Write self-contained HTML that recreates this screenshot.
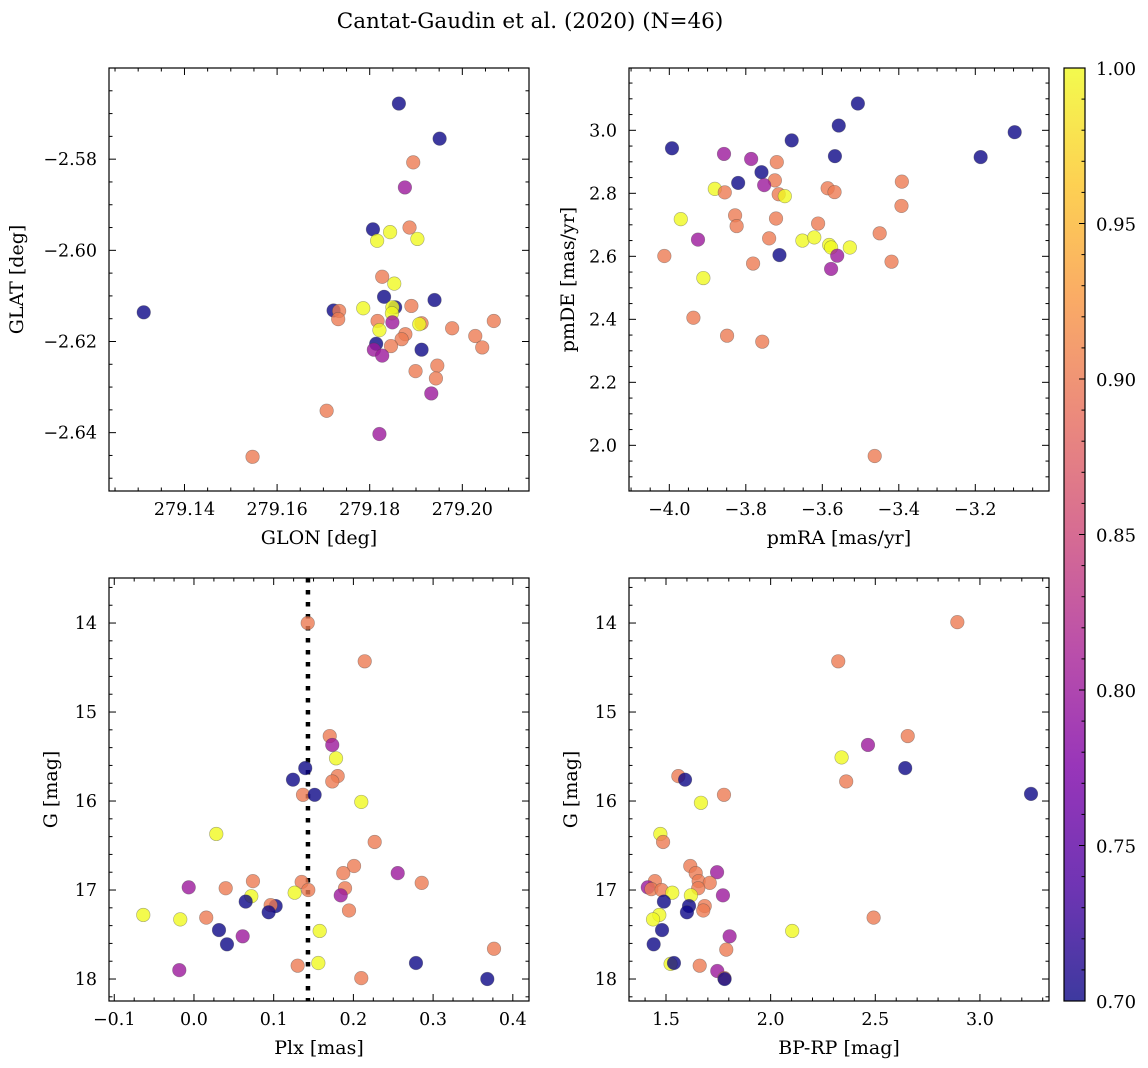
<!DOCTYPE html>
<html><head><meta charset="utf-8"><style>
html,body{margin:0;padding:0;background:#fff;}
svg{display:block;font-family:"DejaVu Serif","Liberation Serif",serif;}
</style></head><body>
<svg id="fig" width="1148" height="1068" viewBox="0 0 1148 1068" xmlns="http://www.w3.org/2000/svg">
<defs>
<linearGradient id="cbgrad" x1="0" y1="1" x2="0" y2="0">
<stop offset="0" stop-color="#0d0887"/><stop offset="0.125" stop-color="#4c02a1"/><stop offset="0.25" stop-color="#7e03a8"/><stop offset="0.375" stop-color="#a92395"/><stop offset="0.5" stop-color="#cc4778"/><stop offset="0.625" stop-color="#e66c5c"/><stop offset="0.75" stop-color="#f89540"/><stop offset="0.875" stop-color="#fdc527"/><stop offset="1" stop-color="#f0f921"/>
</linearGradient>
</defs>
<text x="530" y="28" font-size="21.5" text-anchor="middle">Cantat-Gaudin et al. (2020) (N=46)</text>
<g id="cb">
<rect x="1064" y="68" width="21" height="933" fill="url(#cbgrad)" fill-opacity="0.8" stroke="none"/>
</g>
</svg>
<script>
// ---- data ----
// Panel 1: GLON / GLAT
const glonTL=[279.1863,279.1951,279.1894,279.1876,279.1807,279.1844,279.1886,279.1816,279.1903,279.1827,279.1853,279.1831,279.1940,279.1312,279.1722,279.1734,279.1732,279.1786,279.1855,279.1849,279.1890,279.1848,279.1849,279.1817,279.1912,279.1907,279.1821,279.1978,279.2068,279.2028,279.2043,279.1877,279.1869,279.1846,279.1814,279.1809,279.1827,279.1912,279.1946,279.1899,279.1943,279.1933,279.1707,279.1821,279.1547];
const glatTL=[-2.5678,-2.5755,-2.5807,-2.5862,-2.5954,-2.5960,-2.5950,-2.5979,-2.5975,-2.6058,-2.6073,-2.6102,-2.6109,-2.6136,-2.6132,-2.6133,-2.6151,-2.6127,-2.6125,-2.6125,-2.6122,-2.6138,-2.6158,-2.6155,-2.6160,-2.6162,-2.6175,-2.6171,-2.6155,-2.6188,-2.6213,-2.6184,-2.6195,-2.6210,-2.6205,-2.6218,-2.6231,-2.6218,-2.6253,-2.6265,-2.6281,-2.6314,-2.6352,-2.6403,-2.6453];
const probTL=[0.7,0.7,0.9,0.8,0.7,1,0.9,1,1,0.9,1,0.7,0.7,0.7,0.7,0.9,0.9,1,0.7,1,0.9,1,0.8,0.9,0.9,1,1,0.9,0.9,0.9,0.9,0.9,0.9,0.9,0.7,0.8,0.8,0.7,0.9,0.9,0.9,0.8,0.9,0.8,0.9];
// Panel 2: pmRA / pmDE
const pmraTR=[-3.507,-3.557,-3.097,-3.680,-3.993,-3.567,-3.857,-3.786,-3.719,-3.759,-3.186,-3.820,-3.724,-3.752,-3.881,-3.855,-3.714,-3.698,-3.586,-3.568,-3.392,-3.393,-3.970,-3.828,-3.824,-3.721,-3.611,-3.450,-3.925,-3.739,-3.652,-3.621,-3.582,-3.577,-3.561,-3.528,-3.712,-4.013,-3.781,-3.577,-3.419,-3.911,-3.937,-3.849,-3.757,-3.463];
const pmdeTR=[3.085,3.015,2.994,2.968,2.943,2.918,2.925,2.909,2.899,2.867,2.915,2.833,2.841,2.826,2.814,2.803,2.797,2.791,2.816,2.804,2.837,2.760,2.718,2.730,2.696,2.720,2.704,2.673,2.653,2.657,2.650,2.660,2.636,2.628,2.602,2.628,2.604,2.601,2.577,2.560,2.583,2.531,2.405,2.348,2.329,1.966];
const probTR=[0.7,0.7,0.7,0.7,0.7,0.7,0.8,0.8,0.9,0.7,0.7,0.7,0.9,0.8,1,0.9,0.9,1,0.9,0.9,0.9,0.9,1,0.9,0.9,0.9,0.9,0.9,0.8,0.9,1,1,1,1,0.8,1,0.7,0.9,0.9,0.8,0.9,1,0.9,0.9,0.9,0.9];
// Panel 3: Plx / G
const plxBL=[0.1427,0.2142,0.1703,0.1735,0.1782,0.1396,0.1242,0.1803,0.1735,0.1368,0.1514,0.2099,0.028,0.2267,0.2008,0.1873,0.2556,0.1351,0.074,-0.0066,0.0398,0.1434,0.1263,0.0719,0.1895,0.1841,0.2857,0.0649,0.1025,0.0962,0.0937,0.1945,-0.0636,-0.0172,0.0154,0.0314,0.1577,0.0611,0.0414,0.3764,0.156,0.1301,0.2785,-0.0184,0.2099,0.368];
const gBL=[14.00,14.43,15.27,15.37,15.52,15.63,15.76,15.72,15.78,15.93,15.93,16.01,16.37,16.46,16.73,16.81,16.81,16.91,16.90,16.97,16.98,17.00,17.03,17.07,16.98,17.06,16.92,17.13,17.18,17.17,17.25,17.23,17.28,17.33,17.31,17.45,17.46,17.52,17.61,17.66,17.82,17.85,17.82,17.90,17.99,18.00];
const probBL=[0.9,0.9,0.9,0.8,1,0.7,0.7,0.9,0.9,0.9,0.7,1,1,0.9,0.9,0.9,0.8,0.9,0.9,0.8,0.9,0.9,1,1,0.9,0.8,0.9,0.7,0.7,0.9,0.7,0.9,1,1,0.9,0.7,1,0.8,0.7,0.9,1,0.9,0.7,0.8,0.9,0.7];
const plxRef=0.143;
// Panel 4: BP-RP / G
const bprpBR=[2.892,2.323,2.655,2.465,2.339,2.643,2.361,1.559,1.591,1.777,3.244,1.667,1.473,1.486,1.616,1.642,1.744,1.656,1.709,1.447,1.413,1.430,1.479,1.654,1.530,1.619,1.772,1.490,1.610,1.685,1.600,1.678,1.468,1.438,2.492,1.481,2.103,1.804,1.441,1.788,1.522,1.538,1.661,1.745,1.779,1.780];
const gBR=[13.99,14.43,15.27,15.37,15.51,15.63,15.78,15.72,15.76,15.93,15.92,16.02,16.37,16.46,16.73,16.81,16.80,16.90,16.92,16.90,16.97,16.99,17.00,16.98,17.03,17.06,17.06,17.13,17.18,17.18,17.25,17.23,17.28,17.33,17.31,17.45,17.46,17.52,17.61,17.67,17.83,17.82,17.85,17.91,17.99,18.00];
const probBR=[0.9,0.9,0.9,0.8,1,0.7,0.9,0.9,0.7,0.9,0.7,1,1,0.9,0.9,0.9,0.8,0.9,0.9,0.9,0.8,0.9,0.9,0.9,1,1,0.8,0.7,0.7,0.9,0.7,0.9,1,1,0.9,0.7,1,0.8,0.7,0.9,1,0.7,0.9,0.8,0.9,0.7];
// ticks
const ticksGlon=[279.14,279.16,279.18,279.20];
const ticksGlat=[-2.58,-2.60,-2.62,-2.64];
const ticksPmra=[-4.0,-3.8,-3.6,-3.4,-3.2];
const ticksPmde=[2.0,2.2,2.4,2.6,2.8,3.0];
const ticksPlx=[-0.1,0.0,0.1,0.2,0.3,0.4];
const ticksG=[14,15,16,17,18];
const ticksBprp=[1.5,2.0,2.5,3.0];
const ticksCb=[0.70,0.75,0.80,0.85,0.90,0.95,1.00];

const NS="http://www.w3.org/2000/svg";
const svg=document.getElementById('fig');
function mk(tag,attrs,parent){const e=document.createElementNS(NS,tag);for(const k in attrs)e.setAttribute(k,attrs[k]);(parent||svg).appendChild(e);return e;}
const stops=[[13,8,135],[76,2,161],[126,3,168],[169,35,149],[204,71,120],[230,108,92],[248,149,64],[253,197,39],[240,249,33]];
function plasma(t){t=Math.max(0,Math.min(1,t));const f=t*8,i=Math.min(7,Math.floor(f)),r=f-i;const a=stops[i],b=stops[i+1];return 'rgb('+a.map((v,k)=>Math.round(v+(b[k]-v)*r)).join(',')+')';}
function fmt(v,d){return (v<0?'\u2212':'')+Math.abs(v).toFixed(d);}

function panel(o){
  const g=mk('g',{});
  
  
  const X=v=>o.x0+(v-o.xmin)/(o.xmax-o.xmin)*o.w;
  const Y=v=>o.yinv? o.y0+(v-o.ymin)/(o.ymax-o.ymin)*o.h : o.y0+o.h-(v-o.ymin)/(o.ymax-o.ymin)*o.h;
  if(o.vline!==undefined){
    const l=mk('line',{x1:X(o.vline),x2:X(o.vline),y1:o.y0,y2:o.y0+o.h,stroke:'#000','stroke-width':4.5,'stroke-dasharray':'4.5 7.5'},g);
    
    
  }
  const pg=mk('g',{},g);
  
  
  for(let i=0;i<o.xs.length;i++){
    const c=mk('circle',{cx:X(o.xs[i]),cy:Y(o.ys[i]),r:6.8,fill:plasma((o.ps[i]-0.7)/0.3),'fill-opacity':0.8,stroke:'#444','stroke-opacity':0.45,'stroke-width':0.6},pg);
    
    
  }
  const fr=mk('rect',{x:o.x0,y:o.y0,width:o.w,height:o.h,fill:'none',stroke:'#000','stroke-width':1.2},g);
  
  
  const st=Math.ceil((o.xmin)/o.xminor-1e-9);
  for(let k=st;k*o.xminor<=o.xmax+1e-9;k++){
    const v=k*o.xminor, px=X(v);
    const major=Math.abs(v/o.xmajor-Math.round(v/o.xmajor))<1e-6;
    const L=major?7:3.5;
    mk('line',{x1:px,x2:px,y1:o.y0+o.h,y2:o.y0+o.h-L,stroke:'#000','stroke-width':1},g);
    mk('line',{x1:px,x2:px,y1:o.y0,y2:o.y0+L,stroke:'#000','stroke-width':1},g);
  }
  for(const v of o.xt){
    const t=mk('text',{x:X(v),y:o.y0+o.h+24,'font-size':17.5,'text-anchor':'middle'},g);
    t.textContent=fmt(v,o.xd);
    
    
  }
  const sy=Math.ceil(o.ymin/o.yminor-1e-9);
  for(let k=sy;k*o.yminor<=o.ymax+1e-9;k++){
    const v=k*o.yminor, py=Y(v);
    const major=Math.abs(v/o.ymajor-Math.round(v/o.ymajor))<1e-6;
    const L=major?7:3.5;
    mk('line',{x1:o.x0,x2:o.x0+L,y1:py,y2:py,stroke:'#000','stroke-width':1},g);
    mk('line',{x1:o.x0+o.w,x2:o.x0+o.w-L,y1:py,y2:py,stroke:'#000','stroke-width':1},g);
  }
  for(const v of o.yt){
    const t=mk('text',{x:o.x0-12,y:Y(v)+6,'font-size':17.5,'text-anchor':'end'},g);
    t.textContent=fmt(v,o.yd);
    
    
  }
  const xl=mk('text',{x:o.x0+o.w/2,y:o.y0+o.h+53,'font-size':19,'text-anchor':'middle'},g);
  xl.textContent=o.xlabel;
  
  
  const yl=mk('text',{x:0,y:0,'font-size':19,'text-anchor':'middle',transform:'translate('+o.ylx+','+(o.y0+o.h/2)+') rotate(-90)'},g);
  yl.textContent=o.ylabel;
  
  
}

panel({name:'glon-glat-panel',x0:109,y0:68,w:420,h:423,xmin:279.1237,xmax:279.2144,ymin:-2.6528,ymax:-2.56,xs:glonTL,ys:glatTL,ps:probTL,xt:ticksGlon,xd:2,yt:ticksGlat,yd:2,xmajor:0.02,xminor:0.005,ymajor:0.02,yminor:0.005,xlabel:'GLON [deg]',ylabel:'GLAT [deg]',ylx:23});
panel({name:'proper-motion-panel',x0:629,y0:68,w:420,h:423,xmin:-4.1054,xmax:-3.0073,ymin:1.855,ymax:3.1978,xs:pmraTR,ys:pmdeTR,ps:probTR,xt:ticksPmra,xd:1,yt:ticksPmde,yd:1,xmajor:0.2,xminor:0.05,ymajor:0.2,yminor:0.05,xlabel:'pmRA [mas/yr]',ylabel:'pmDE [mas/yr]',ylx:574});
panel({name:'plx-g-panel',x0:109,y0:578,w:420,h:423,xmin:-0.1066,xmax:0.4203,ymin:13.494,ymax:18.247,yinv:true,xs:plxBL,ys:gBL,ps:probBL,xt:ticksPlx,xd:1,yt:ticksG,yd:0,xmajor:0.1,xminor:0.025,ymajor:1,yminor:0.2,xlabel:'Plx [mas]',ylabel:'G [mag]',ylx:57,vline:plxRef});
panel({name:'cmd-panel',x0:629,y0:578,w:420,h:423,xmin:1.3232,xmax:3.33,ymin:13.494,ymax:18.247,yinv:true,xs:bprpBR,ys:gBR,ps:probBR,xt:ticksBprp,xd:1,yt:ticksG,yd:0,xmajor:0.5,xminor:0.1,ymajor:1,yminor:0.2,xlabel:'BP-RP [mag]',ylabel:'G [mag]',ylx:577});

// colorbar
const cb=document.getElementById('cb');
const CY=v=>1001-(v-0.7)/0.3*933;
for(let k=0;k<=30;k++){
  const v=0.7+k*0.01, py=CY(v);
  const major=k%5===0;
  mk('line',{x1:1085,x2:1085-(major?6:3.5),y1:py,y2:py,stroke:'#000','stroke-width':1},cb);
}
for(const v of ticksCb){
  const t=mk('text',{x:1096,y:CY(v)+7,'font-size':18},cb);
  t.textContent=v.toFixed(2);
  
  
}
const cf=mk('rect',{x:1064,y:68,width:21,height:933,fill:'none',stroke:'#000','stroke-width':1.2},cb);


</script>
</body></html>
